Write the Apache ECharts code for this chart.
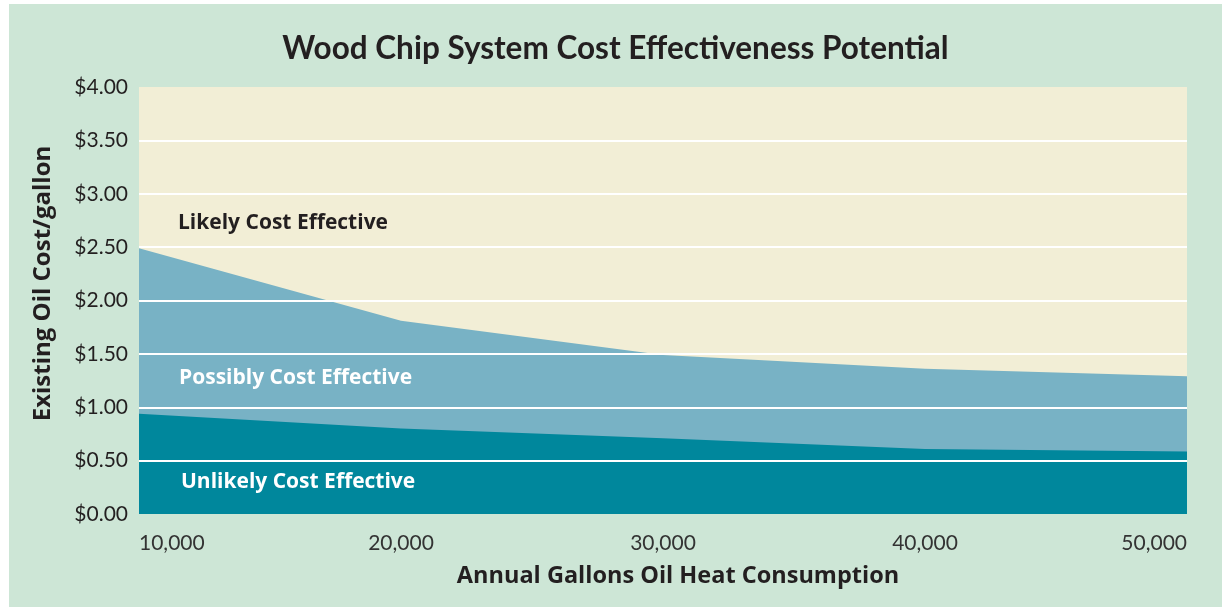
<!DOCTYPE html>
<html>
<head>
    <meta charset="utf-8">
    <title>Wood Chip System Cost Effectiveness Potential</title>
    <script src="https://cdn.jsdelivr.net/npm/echarts@6/dist/echarts.min.js"></script>
    <style>
        body { margin: 0; background: #ffffff; }
        #box { position: absolute; left: 9px; top: 4px; width: 1213px; height: 603px; background: #cde6d6; }
    </style>
</head>
<body>
    <div id="box"></div>
    <script>
        // annual gallons of oil heat
        var gallons = ['10,000', '20,000', '30,000', '40,000', '50,000'];
        // oil price above which wood chips are likely cost effective
        var upperBound = [2.49, 1.81, 1.49, 1.36, 1.29];
        // oil price below which wood chips are unlikely cost effective
        var lowerBound = [0.94, 0.80, 0.71, 0.61, 0.585];
        var zoneNames = ['Likely Cost Effective', 'Possibly Cost Effective', 'Unlikely Cost Effective'];

        var font = 'Lato';
        var boldFont = 'Open Sans';
        var dark = '#231f20';

        var myChart = echarts.init(document.getElementById('box'));
        var option = {
            backgroundColor: '#cde6d6',
            animation: false,
            title: {
                text: 'Wood Chip System Cost Effectiveness Potential',
                left: 'center',
                top: 24,
                textStyle: { fontFamily: font, fontSize: 31.5, fontWeight: 'bold', color: dark }
            },
            grid: {
                left: 130, right: 35, top: 83, bottom: 93,
                show: true,
                backgroundColor: '#f2eed6',
                borderWidth: 0
            },
            xAxis: {
                type: 'category',
                data: gallons,
                boundaryGap: false,
                name: 'Annual Gallons Oil Heat Consumption',
                nameLocation: 'middle',
                nameGap: 50,
                nameTextStyle: { fontFamily: boldFont, fontSize: 23.5, fontWeight: 'bold', color: dark, padding: [0, 0, 0, 30] },
                axisLine: { show: false },
                axisTick: { show: false },
                splitLine: { show: false },
                axisLabel: {
                    margin: 19,
                    fontFamily: font, fontSize: 21, color: '#333',
                    alignMinLabel: 'left',
                    alignMaxLabel: 'right'
                }
            },
            yAxis: {
                type: 'value',
                min: 0, max: 4, interval: 0.5,
                z: 10,
                name: 'Existing Oil Cost/gallon',
                nameLocation: 'middle',
                nameGap: 84,
                nameTextStyle: { fontFamily: boldFont, fontSize: 24, fontWeight: 'bold', color: dark, padding: [0, 0, 0, 34] },
                axisLine: { show: false },
                axisTick: { show: false },
                axisLabel: {
                    margin: 11,
                    fontFamily: font, fontSize: 21, color: dark,
                    formatter: function (v) { return '$' + v.toFixed(2); }
                },
                splitLine: {
                    show: true,
                    showMinLine: false,
                    showMaxLine: false,
                    lineStyle: { color: '#ffffff', width: 2 }
                }
            },
            series: [{
                name: zoneNames[1],
                type: 'line',
                data: upperBound,
                symbol: 'none',
                lineStyle: { width: 0 },
                areaStyle: { color: '#78b2c5', opacity: 1 }
            }, {
                name: zoneNames[2],
                type: 'line',
                data: lowerBound,
                symbol: 'none',
                lineStyle: { width: 0 },
                areaStyle: { color: '#00879c', opacity: 1 }
            }],
            graphic: [{
                type: 'text', left: 169, top: 209, z: 20,
                style: { text: zoneNames[0], fontFamily: boldFont, fontSize: 21, fontWeight: 'bold', fill: dark }
            }, {
                type: 'text', left: 170, top: 364, z: 20,
                style: { text: zoneNames[1], fontFamily: boldFont, fontSize: 21, fontWeight: 'bold', fill: '#ffffff' }
            }, {
                type: 'text', left: 172, top: 468, z: 20,
                style: { text: zoneNames[2], fontFamily: boldFont, fontSize: 21, fontWeight: 'bold', fill: '#ffffff' }
            }]
        };
        myChart.setOption(option);
    </script>
</body>
</html>
